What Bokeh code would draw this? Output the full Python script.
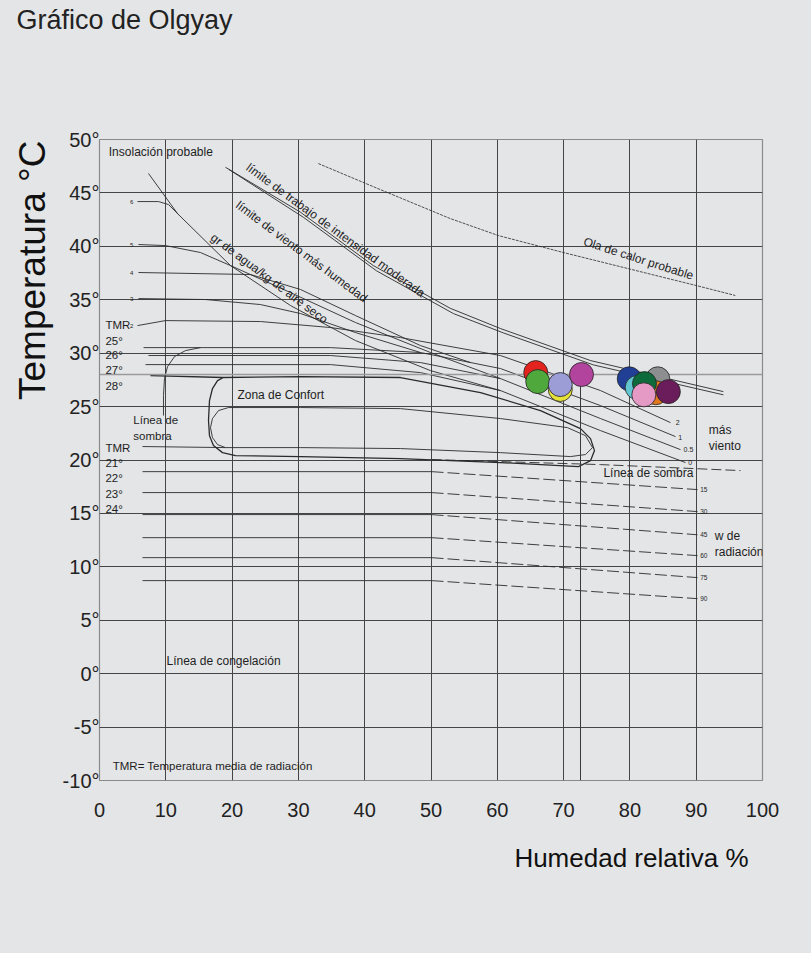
import math
from bokeh.plotting import figure
from bokeh.models import Range1d, FixedTicker, Title
from bokeh.layouts import column
from bokeh.core.properties import value
from bokeh.embed import file_html
from bokeh.resources import INLINE

FONT = "Liberation Sans"
BG = "#e4e5e7"
INK = "#2b2b2b"

TITLE = "Gráfico de Olgyay"
X_LABEL = "Humedad relativa %"
Y_LABEL = "Temperatura °C"

# ---- axes ----
x_ticks = [0, 10, 20, 30, 40, 50, 60, 70, 80, 90, 100]
x_tick_labels = ["0", "10", "20", "30", "40", "50", "60", "70", "80", "90", "100"]
y_ticks = [50, 45, 40, 35, 30, 25, 20, 15, 10, 5, 0, -5, -10]
y_tick_labels = ["50°", "45°", "40°", "35°", "30°", "25°", "20°", "15°", "10°", "5°", "0°", "-5°", "-10°"]

# ---- curves (humedad relativa %, temperatura °C) ----
ola_x = [33.0, 42.4, 52.9, 60.2, 70.1, 90.2, 95.9]
ola_t = [47.75, 45.3, 42.6, 41.0, 39.4, 36.3, 35.4]

trabajo1_x = [19.0, 30.3, 41.3, 52.9, 60.5, 74.1, 94.1]
trabajo1_t = [47.4, 43.2, 38.2, 34.2, 32.3, 29.3, 26.4]
trabajo2_x = [19.5, 30.8, 41.8, 53.4, 60.9, 74.5, 94.1]
trabajo2_t = [47.2, 42.7, 37.7, 33.7, 31.9, 28.9, 26.1]

g6_x = [5.73, 8.90, 10.41, 11.92]
g6_t = [44.19, 44.19, 43.91, 42.98]
g5_x = [5.88, 9.95, 15.23, 19.76, 28.81, 38.61, 49.92, 60.48]
g5_t = [40.17, 40.07, 39.42, 38.20, 35.67, 32.87, 30.06, 27.62]
g4_x = [5.88, 22.78, 30.32, 38.61, 48.42, 55.96]
g4_t = [37.55, 37.36, 35.96, 33.52, 30.71, 29.12]
g3_x = [5.88, 15.99, 24.28, 30.32, 38.61, 48.42]
g3_t = [35.11, 35.02, 34.55, 33.71, 31.93, 30.06]
g2_x = [5.73, 9.95, 24.28, 34.84, 45.40, 60.48, 75.57, 86.12]
g2_t = [32.58, 33.05, 32.96, 32.40, 31.46, 29.78, 26.50, 23.50]
steep_x = [7.39, 11.76, 19.76, 28.81, 38.61, 49.92, 60.48]
steep_t = [46.82, 43.07, 38.20, 34.46, 31.18, 28.37, 26.50]

u25_x = [6.64, 34.84, 48.42, 60.48, 75.57, 86.88]
u25_t = [30.52, 30.52, 30.06, 28.56, 25.09, 22.19]
u26_x = [7.39, 34.84, 48.42, 60.48, 75.57, 87.63]
u26_t = [29.78, 29.78, 29.12, 27.62, 23.88, 20.97]
u27_x = [6.94, 34.84, 48.42, 60.48, 75.57, 88.39]
u27_t = [28.93, 28.93, 28.18, 26.50, 22.75, 19.76]

outer_x = [7.69, 18.70, 30.32, 45.40, 57.47, 66.52, 72.55, 74.06, 74.66, 74.06, 72.25, 60.48,
           45.40, 30.32, 20.51, 18.55, 17.19, 16.59, 16.44, 16.59, 17.04, 17.80, 18.70]
outer_t = [27.90, 27.72, 27.81, 27.72, 26.31, 24.63, 22.94, 22.00, 20.88, 19.94, 19.38, 19.76,
           20.13, 20.32, 20.41, 20.69, 21.35, 22.28, 23.69, 25.56, 26.69, 27.43, 27.72]
inner_x = [19.46, 30.32, 45.40, 60.48, 70.59, 73.30, 74.36, 73.30, 71.04, 60.48, 45.40, 30.32,
           19.00, 17.80, 17.04, 16.74, 17.04, 17.95, 19.46]
inner_t = [24.91, 24.91, 24.81, 23.88, 23.03, 22.28, 21.16, 20.51, 20.32, 20.69, 21.07, 21.16,
           21.16, 21.44, 22.10, 23.03, 23.88, 24.63, 24.91]
tmr_base_x = [6.49, 19.0]
tmr_base_t = [21.26, 21.16]

sombra_arc_x = [15.23, 12.97, 11.31, 10.26, 9.80, 9.65, 9.65]
sombra_arc_t = [30.52, 30.24, 29.68, 28.74, 27.62, 26.03, 24.16]
sombra_line_x = [50.08, 75.57, 96.68]
sombra_line_t = [20.04, 19.57, 19.01]

# radiation lines: solid part to 50 %, dashed part to the W label
rad_x_solid = [6.49, 50.08]
rad_x_dash = [50.08, 90.2]
rad_levels = ["15", "30", "45", "60", "75", "90"]
rad_t_start = [18.91, 16.95, 14.89, 12.73, 10.86, 8.71]
rad_t_end = [17.23, 15.17, 13.00, 11.05, 8.99, 7.02]

# ---- measured points ----
pt_x = [65.8, 66.1, 69.5, 69.5, 72.7, 79.9, 84.2, 83.9, 81.1, 82.2, 82.1, 85.8]
pt_t = [28.18, 27.34, 26.6, 27.06, 28.0, 27.6, 27.6, 26.3, 26.78, 27.15, 26.1, 26.4]
pt_colors = ["#e3241e", "#4fa83c", "#e7e23a", "#9c9cd6", "#b2449d", "#213f95", "#8d8e90",
             "#e0781f", "#63c7d1", "#0d6a3b", "#e59ac6", "#6a1c5b"]
ref_x = 72.55
ref_t = 28.0

# ---- title strip (its own small figure, title only) ----
head = figure(width=811, height=40, min_border=0, x_axis_type=None, y_axis_type=None,
              x_range=Range1d(0, 1), y_range=Range1d(0, 1),
              output_backend="svg", toolbar_location=None,
              background_fill_color=BG, border_fill_color=BG)
head.outline_line_color = None
head.xgrid.visible = False
head.ygrid.visible = False
head.title.text = TITLE
head.title.align = "left"
head.title.offset = -83
head.title.standoff = 4
head.title.text_font = FONT
head.title.text_font_style = "normal"
head.title.text_font_size = "27px"
head.title.text_color = "#222222"
head.line([0, 1], [0, 0], line_alpha=0)

# ---- main chart ----
p = figure(frame_width=663, frame_height=641,
           min_border_left=99, min_border_right=49, min_border_top=99, min_border_bottom=173,
           x_range=Range1d(0, 100), y_range=Range1d(-10, 50),
           output_backend="svg", toolbar_location=None,
           background_fill_color=BG, border_fill_color=BG)
p.outline_line_color = "#8a8a8a"
p.outline_line_width = 1.2

for ax in (p.xaxis, p.yaxis):
    ax.axis_line_color = None
    ax.major_tick_line_color = None
    ax.minor_tick_line_color = None
    ax.major_tick_out = 0
    ax.major_tick_in = 0
    ax.minor_tick_out = 0
    ax.major_label_text_font = FONT
    ax.major_label_text_color = "#222222"
p.xaxis.ticker = FixedTicker(ticks=x_ticks)
p.xaxis.major_label_overrides = {t: l for t, l in zip(x_ticks, x_tick_labels)}
p.xaxis.major_label_text_font_size = "20px"
p.xaxis.major_label_standoff = 22
p.yaxis.ticker = FixedTicker(ticks=y_ticks)
p.yaxis.major_label_overrides = {t: l for t, l in zip(y_ticks, y_tick_labels)}
p.yaxis.major_label_text_font_size = "20px"
p.yaxis.major_label_standoff = 0

y_title = Title(text=Y_LABEL, align="right", offset=1, vertical_align="middle", standoff=12,
                text_font=FONT, text_font_style="normal", text_font_size="37px",
                text_color="#111111")
p.add_layout(y_title, "left")
x_title = Title(text=X_LABEL, align="right", offset=14, vertical_align="top", standoff=46,
                text_font=FONT, text_font_style="normal", text_font_size="26px",
                text_color="#111111")
p.add_layout(x_title, "below")

p.xgrid.ticker = FixedTicker(ticks=x_ticks[1:-1])
p.ygrid.ticker = FixedTicker(ticks=y_ticks[1:-1])
for g in (p.xgrid, p.ygrid):
    g.grid_line_color = "#454545"
    g.grid_line_width = 1

thin = dict(line_color=INK, line_width=0.9)
p.line(ola_x, ola_t, line_color=INK, line_width=0.8, line_dash="3 1")
p.line(trabajo1_x, trabajo1_t, **thin)
p.line(trabajo2_x, trabajo2_t, **thin)
for xs, ts in [(g6_x, g6_t), (g5_x, g5_t), (g4_x, g4_t), (g3_x, g3_t), (g2_x, g2_t),
               (steep_x, steep_t), (u25_x, u25_t), (u26_x, u26_t), (u27_x, u27_t),
               (sombra_arc_x, sombra_arc_t), (tmr_base_x, tmr_base_t), (inner_x, inner_t)]:
    p.line(xs, ts, **thin)
p.line(outer_x, outer_t, line_color=INK, line_width=1.3)
p.line(sombra_line_x, sombra_line_t, line_color=INK, line_width=0.9, line_dash="10 4")
for ts0, ts1 in zip(rad_t_start, rad_t_end):
    p.line(rad_x_solid, [ts0, ts0], **thin)
    p.line(rad_x_dash, [ts0, ts1], line_color=INK, line_width=0.9, line_dash="12 4")

# reading lines for the magenta point
p.line([0, 100], [ref_t, ref_t], line_color="#9a9a9a", line_width=1.5)
p.line([ref_x, ref_x], [ref_t, -10], line_color="#3a3a3a", line_width=1)

p.scatter(pt_x, pt_t, size=24, fill_color=pt_colors, line_color="#222222", line_width=0.8)

def txt(x, y, s, size, align="left", angle=0.0):
    p.text(x=[x], y=[y], text=[s], angle=angle, text_align=align, text_baseline="middle",
           text_font=value(FONT), text_font_size=size, text_color="#1e1e1e")

txt(1.4, 48.8, "Insolación probable", "12px")
txt(35.6, 41.5, "límite de trabajo de intensidad moderada", "12px", "center", -0.63)
txt(30.5, 39.5, "límite de viento más humedad", "12px", "center", -0.64)
txt(25.6, 37.0, "gr de agua/kg de aire seco", "12px", "center", -0.64)
txt(81.3, 38.85, "Ola de calor probable", "12px", "center", -0.31)
txt(20.8, 26.1, "Zona de Confort", "12px")
txt(5.1, 23.7, "Línea de", "11.5px")
txt(5.1, 22.2, "sombra", "11.5px")
txt(0.9, 32.6, "TMR", "11.5px")
for lab, t in zip(["25°", "26°", "27°", "28°"], [31.1, 29.8, 28.4, 26.9]):
    txt(0.9, t, lab, "11.5px")
txt(0.9, 21.1, "TMR", "11.5px")
for lab, t in zip(["21°", "22°", "23°", "24°"], [19.7, 18.3, 16.85, 15.45]):
    txt(0.9, t, lab, "11.5px")
for lab, t in zip(["6", "5", "4", "3", "2"], [44.19, 40.17, 37.55, 35.11, 32.58]):
    txt(4.6, t, lab, "6px")
for lab, xx, t in zip(["2", "1", "0.5", "0"], [86.9, 87.3, 88.1, 88.8], [23.5, 22.1, 21.0, 19.8]):
    txt(xx, t, lab, "7px")
for lab, t in zip(rad_levels, rad_t_end):
    txt(90.6, t, lab, "6.5px")
txt(91.9, 22.8, "más", "12px")
txt(91.9, 21.3, "viento", "12px")
txt(76.0, 18.8, "Línea de sombra", "12px")
txt(92.8, 12.9, "w de", "12px")
txt(92.8, 11.4, "radiación", "12px")
txt(10.1, 1.2, "Línea de congelación", "12px")
txt(2.0, -8.6, "TMR= Temperatura media de radiación", "11.5px")

layout = column(head, p, spacing=0, styles={"background-color": BG})
open("out.html", "w").write(file_html(layout, INLINE))
